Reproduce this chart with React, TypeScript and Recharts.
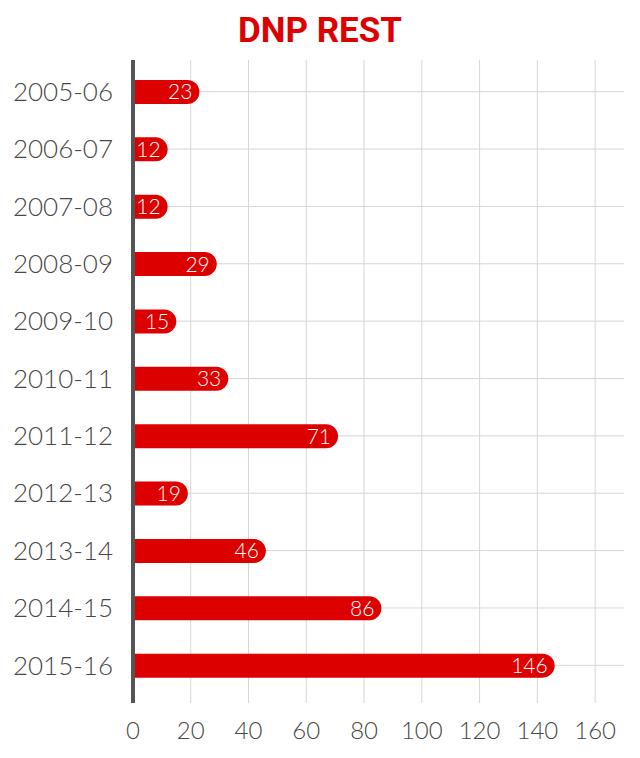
import { Bar, BarChart, CartesianGrid, LabelList, XAxis, YAxis } from "recharts"

const seasons = [
  "2005-06",
  "2006-07",
  "2007-08",
  "2008-09",
  "2009-10",
  "2010-11",
  "2011-12",
  "2012-13",
  "2013-14",
  "2014-15",
  "2015-16",
]
const dnpRest = [23, 12, 12, 29, 15, 33, 71, 19, 46, 86, 146]
const xTicks = [0, 20, 40, 60, 80, 100, 120, 140, 160]

const data = seasons.map((season, i) => ({ season, value: dnpRest[i] }))

const RED = "#dd0000"
const INK = "#474747"
const FONT = "Lato, 'Open Sans', sans-serif"

// the scale object differs between recharts versions, so try what it offers
const place = (s: any, v: any) => {
  if (!s) return NaN
  const bw = typeof s.bandwidth === "function" ? s.bandwidth() : 0
  if (typeof s === "function") return s(v) + bw / 2
  if (typeof s.map === "function") return s.map(v) + bw / 2
  if (typeof s.apply === "function") return s.apply(v, { bandAware: true })
  return NaN
}

// grid lines through the middle of each bar, and only at the listed x ticks
const rowLines = ({ yAxis }: any) => seasons.map((c) => place(yAxis?.scale, c)).filter((n) => isFinite(n))
const colLines = ({ xAxis }: any) =>
  xTicks
    .slice(1)
    .map((t) => place(xAxis?.scale, t))
    .filter((n) => isFinite(n))

export default function App() {
  return (
    <div style={{ position: "absolute", left: 0, top: 0, width: 640, height: 758, background: "#fff" }}>
      <div
        style={{
          position: "absolute",
          left: 0,
          top: 11,
          width: 640,
          textAlign: "center",
          fontFamily: "Roboto, sans-serif",
          fontWeight: 700,
          fontSize: 35,
          color: RED,
          lineHeight: "40px",
        }}
      >
        DNP REST
      </div>
      <BarChart
        width={640}
        height={758}
        data={data}
        layout="vertical"
        margin={{ top: 60, right: 16, bottom: 0, left: 0 }}
      >
        <CartesianGrid
          stroke="#d6d6d6"
          strokeWidth={1}
          horizontalCoordinatesGenerator={rowLines}
          verticalCoordinatesGenerator={colLines}
        />
        <XAxis
          type="number"
          domain={[0, 170]}
          ticks={xTicks}
          axisLine={false}
          tickLine={false}
          tickSize={0}
          tickMargin={19}
          height={55}
          tick={{ fill: INK, fontSize: 24, fontFamily: FONT, fontWeight: 300 }}
        />
        <YAxis
          type="category"
          dataKey="season"
          width={133}
          padding={{ top: 3, bottom: 9 }}
          axisLine={{ stroke: "#555", strokeWidth: 4 }}
          tickLine={false}
          tickSize={0}
          tickMargin={20}
          tick={{ fill: INK, fontSize: 26, fontFamily: FONT, fontWeight: 300 }}
        />
        <Bar dataKey="value" fill={RED} barSize={24} radius={[0, 12, 12, 0]} isAnimationActive={false}>
          <LabelList
            dataKey="value"
            position="insideRight"
            offset={7}
            fill="#fff"
            fontSize={21}
            fontFamily={FONT}
            fontWeight={300}
          />
        </Bar>
      </BarChart>
    </div>
  )
}
